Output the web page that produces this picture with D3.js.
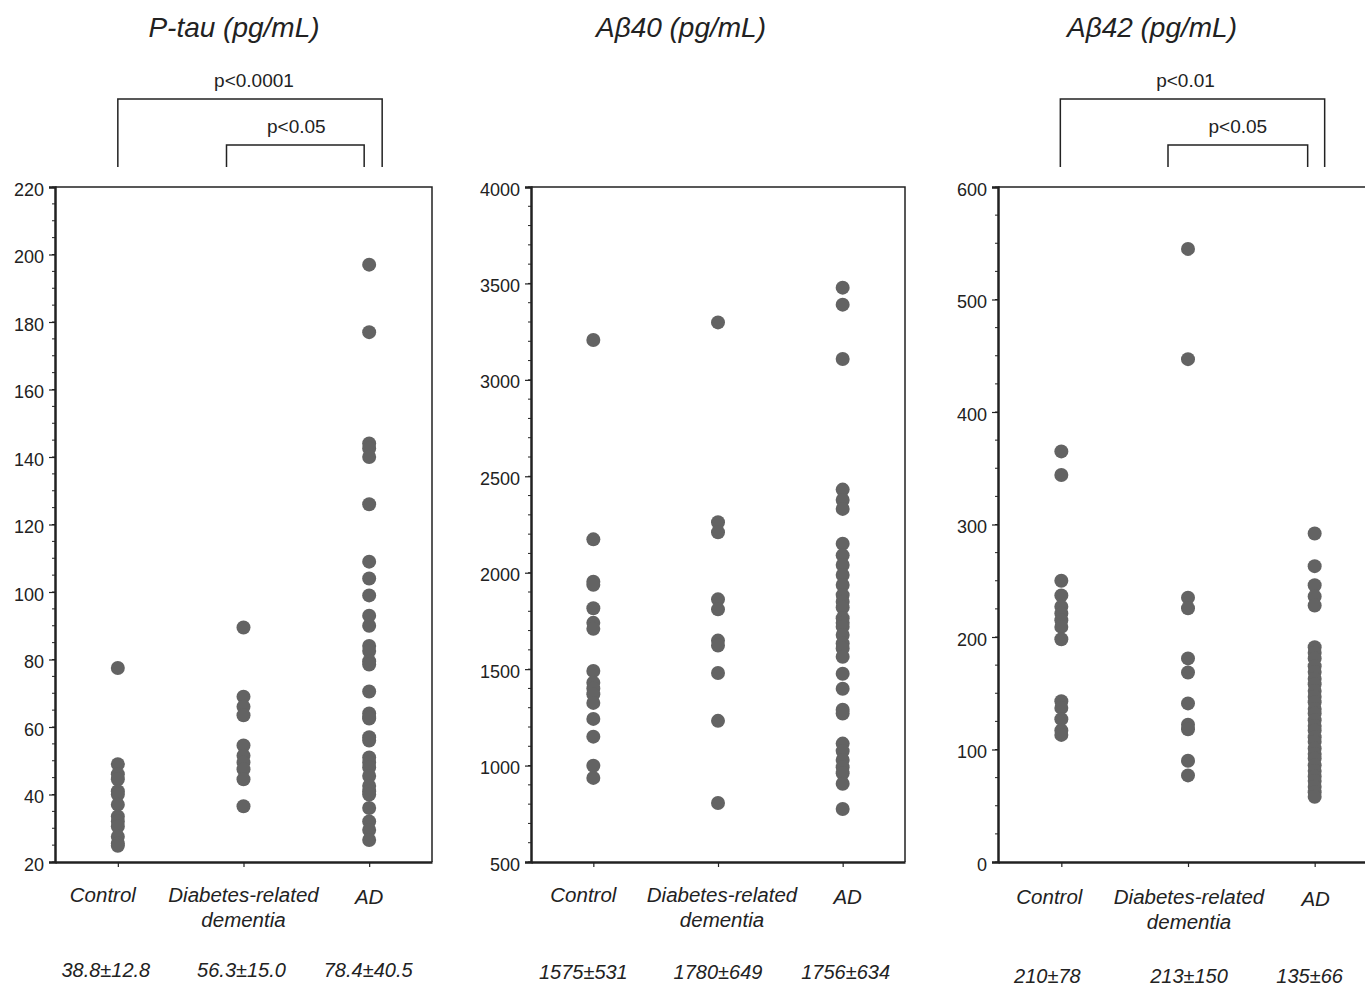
<!DOCTYPE html>
<html>
<head>
<meta charset="utf-8">
<title>CSF biomarkers by group</title>
<script src="https://cdn.jsdelivr.net/npm/d3@7"></script>
<style>
  body { margin: 0; background: #fff; }
  text { font-family: "Liberation Sans", Arial, Helvetica, sans-serif; fill: #222; }
</style>
</head>
<body>
<script>
// groups (x categories), label split into lines
var groups = ["Control", "Diabetes-related dementia", "AD"];
var groupLines = [["Control"], ["Diabetes-related", "dementia"], ["AD"]];

// P-tau (pg/mL)
var ptauControl  = [77.5, 49, 46, 44.5, 41, 40, 37, 33.5, 32, 30.5, 27.5, 25.5, 24.8];
var ptauDiabetes = [89.5, 69, 66, 63.5, 54.5, 51.5, 49.5, 47.5, 44.5, 36.5];
var ptauAD       = [197, 177, 144, 142.5, 140, 126, 109, 104, 99, 93, 90, 84, 82.5, 79.5, 78.5,
                    70.5, 64, 63, 62.5, 57, 56, 51, 49.5, 48, 45.5, 42.5, 41, 40, 36, 32, 29.5, 26.5];
var ptauStats    = ["38.8±12.8", "56.3±15.0", "78.4±40.5"];

// Abeta40 (pg/mL)
var ab40Control  = [3207, 2173, 1953, 1937, 1816, 1740, 1709, 1490, 1430, 1400, 1370, 1325, 1242, 1150, 999, 936];
var ab40Diabetes = [3298, 2262, 2210, 1862, 1810, 1648, 1622, 1480, 1232, 806];
var ab40AD       = [3478, 3390, 3108, 2431, 2377, 2331, 2150, 2090, 2040, 1988, 1936, 1884, 1850, 1820, 1764, 1740,
                    1720, 1677, 1633, 1607, 1564, 1476, 1398, 1290, 1270, 1114, 1075, 1029, 991, 960, 906, 775];
var ab40Stats    = ["1575±531", "1780±649", "1756±634"];

// Abeta42 (pg/mL)
var ab42Control  = [365, 344, 250, 237, 227, 221, 215, 209, 198, 143, 137, 127, 117, 113];
var ab42Diabetes = [545, 447, 235, 225.5, 181, 168.5, 141, 122, 118, 90, 77];
var ab42AD       = [292, 263, 246, 236, 228, 191, 186, 181, 174, 169, 163, 158, 152, 147, 142, 136, 132,
                    126, 121, 117, 111, 107, 101, 96, 92, 86, 81, 76, 72, 67, 62, 58];
var ab42Stats    = ["210±78", "213±150", "135±66"];

var panels = [
  { title: "P-tau (pg/mL)", titleX: 234, left: 55, right: 432, domain: [20, 220], major: 20, minor: 5,
    series: [ptauControl, ptauDiabetes, ptauAD], stats: ptauStats, statY: 977, labY: 902,
    labDx: [-15, 0, 0], statDx: [-12, -2, -1],
    brackets: [ { a: 0, b: 2, dx0: 0, dx1: 13, y: 99, label: "p<0.0001", ldx: 4 },
                { a: 1, b: 2, dx0: -17, dx1: -5, y: 145, label: "p<0.05", ldx: 1 } ] },
  { title: "A\u03b240 (pg/mL)", titleX: 681, left: 531, right: 905, domain: [500, 4000], major: 500, minor: 100,
    series: [ab40Control, ab40Diabetes, ab40AD], stats: ab40Stats, statY: 979, labY: 902,
    labDx: [-10, 4, 5], statDx: [-10, 0, 3], brackets: [] },
  { title: "A\u03b242 (pg/mL)", titleX: 1152, left: 998, right: 1378, domain: [0, 600], major: 100, minor: 25,
    series: [ab42Control, ab42Diabetes, ab42AD], stats: ab42Stats, statY: 983, labY: 904,
    labDx: [-12, 1, 1], statDx: [-14, 1, -5],
    brackets: [ { a: 0, b: 2, dx0: -1, dx1: 10, y: 99, label: "p<0.01", ldx: -7 },
                { a: 1, b: 2, dx0: -20, dx1: -7, y: 145, label: "p<0.05", ldx: 0 } ] }
];

var W = 1365, H = 984, plotTop = 187, plotBottom = 862;
var svg = d3.select("body").append("svg").attr("width", W).attr("height", H);

panels.forEach(function(p) {
  var g = svg.append("g");
  var x = d3.scalePoint().domain(groups).range([p.left, p.right]).padding(0.5);
  var y = d3.scaleLinear().domain(p.domain).range([plotBottom, plotTop]);

  // title
  g.append("text").attr("x", p.titleX).attr("y", 37)
    .attr("text-anchor", "middle").style("font-size", "28px").style("font-style", "italic")
    .text(p.title);

  // frame (top/right)
  g.append("path")
    .attr("d", "M" + p.left + "," + plotTop + "H" + p.right + "V" + plotBottom)
    .attr("fill", "none").attr("stroke", "#222").attr("stroke-width", 1.5);

  // minor ticks
  var minor = d3.range(p.domain[0], p.domain[1] + 0.001, p.minor);
  g.selectAll("line.minor").data(minor).enter().append("line")
    .attr("x1", p.left - 3).attr("x2", p.left)
    .attr("y1", function(d) { return y(d); }).attr("y2", function(d) { return y(d); })
    .attr("stroke", "#222").attr("stroke-width", 1);

  // y axis
  var yAxis = d3.axisLeft(y).tickValues(d3.range(p.domain[0], p.domain[1] + 0.001, p.major))
    .tickSize(6).tickPadding(5).tickFormat(d3.format("d"));
  var ya = g.append("g").attr("transform", "translate(" + p.left + ",0)").call(yAxis);
  ya.select(".domain").attr("stroke", "#222").attr("stroke-width", 2.5);
  ya.selectAll(".tick line").attr("stroke", "#222").attr("stroke-width", 1.2);
  ya.selectAll(".tick text").style("font-size", "18px").attr("fill", "#222").attr("dy", "0.45em")
    .style("font-family", "'Liberation Sans', Arial, sans-serif");

  // x axis
  var xAxis = d3.axisBottom(x).tickSize(5).tickSizeOuter(0).tickFormat("");
  var xa = g.append("g").attr("transform", "translate(0," + plotBottom + ")").call(xAxis);
  xa.select(".domain").attr("stroke", "#222").attr("stroke-width", 2.5);
  xa.selectAll(".tick line").attr("stroke", "#222").attr("stroke-width", 1.2);

  // dots
  p.series.forEach(function(vals, i) {
    g.selectAll(null).data(vals).enter().append("circle")
      .attr("cx", x(groups[i])).attr("cy", function(d) { return y(d); })
      .attr("r", 7).attr("fill", "#636363");
  });

  // category labels
  groupLines.forEach(function(lines, i) {
    var t = g.append("text").attr("x", x(groups[i]) + p.labDx[i]).attr("y", p.labY)
      .attr("text-anchor", "middle").style("font-size", "20.5px").style("font-style", "italic");
    lines.forEach(function(l, k) {
      t.append("tspan").attr("x", x(groups[i]) + p.labDx[i]).attr("dy", k ? 25 : (lines.length === 1 && i === 2 ? 2 : 0)).text(l);
    });
  });

  // mean ± SD
  p.stats.forEach(function(s, i) {
    g.append("text").attr("x", x(groups[i]) + p.statDx[i]).attr("y", p.statY)
      .attr("text-anchor", "middle").style("font-size", "20px").style("font-style", "italic")
      .text(s);
  });

  // significance brackets
  p.brackets.forEach(function(b) {
    var x0 = x(groups[b.a]) + b.dx0, x1 = x(groups[b.b]) + b.dx1;
    g.append("path").attr("d", "M" + x0 + ",167V" + b.y + "H" + x1 + "V167")
      .attr("fill", "none").attr("stroke", "#222").attr("stroke-width", 1.5);
    g.append("text").attr("x", (x0 + x1) / 2 + b.ldx).attr("y", b.y - 12)
      .attr("text-anchor", "middle").style("font-size", "19px").text(b.label);
  });
});
</script>
</body>
</html>
